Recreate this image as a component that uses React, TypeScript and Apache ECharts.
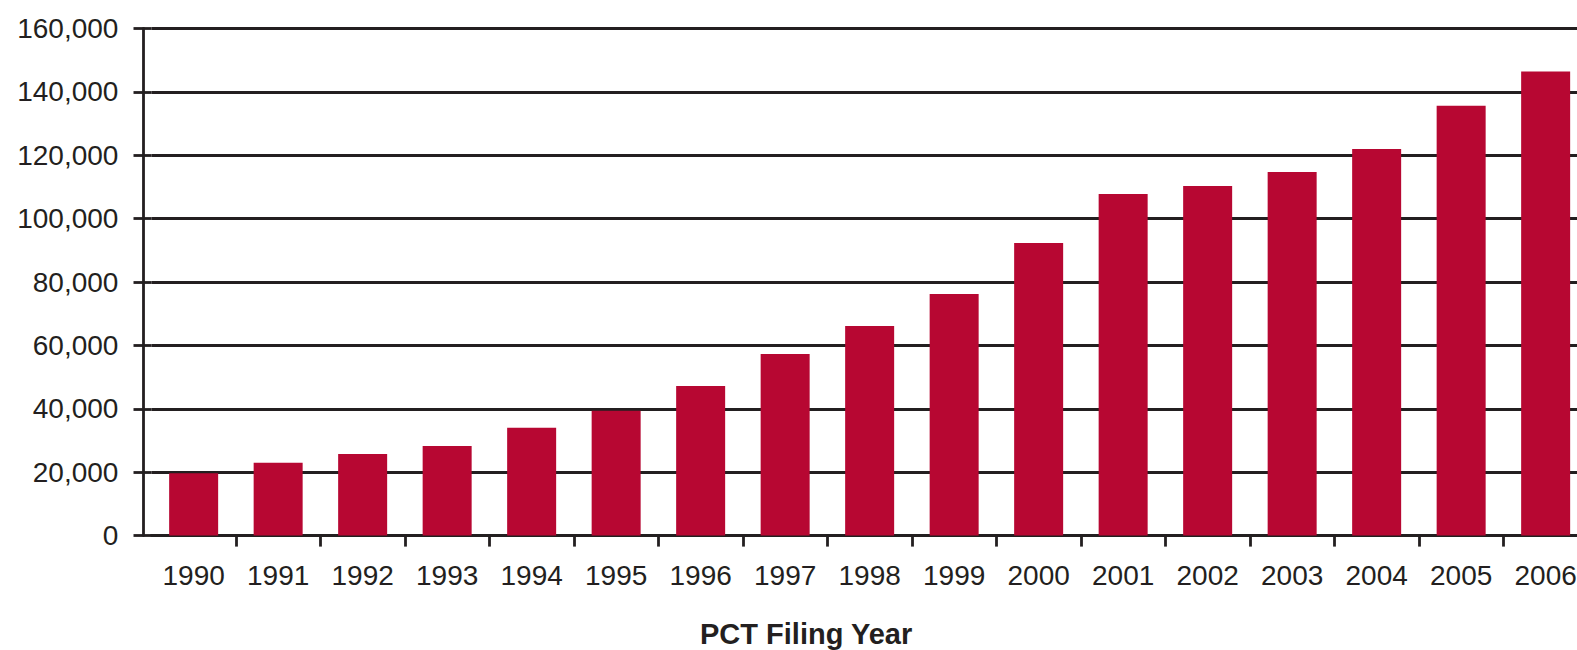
import React, { useEffect, useRef } from "react";
import * as echarts from "echarts";

const years = ["1990","1991","1992","1993","1994","1995","1996","1997","1998","1999","2000","2001","2002","2003","2004","2005","2006"];
const filings = [19700, 23000, 25750, 28300, 34000, 39400, 47200, 57300, 66150, 76250, 92350, 107800, 110300, 114750, 122000, 135600, 146400];
const yMin = 0;
const yMax = 160000;
const yStep = 20000;
const xTitle = "PCT Filing Year";

const INK = "#231f20";
const BAR = "#b70732";
const FONT = "'Liberation Sans', Arial, sans-serif";
const LW = 2.8;

export default function App() {
  const ref = useRef<HTMLDivElement>(null);
  useEffect(() => {
    if (!ref.current) return;
    const chart = echarts.init(ref.current, null, { renderer: "svg" });
    const top = 28.5;
    const height = 507.1;
    chart.setOption({
      animation: false,
      backgroundColor: "#ffffff",
      title: {
        text: xTitle,
        left: 700,
        top: 619,
        padding: 0,
        textStyle: { fontSize: 29, fontWeight: "bold", color: INK, fontFamily: FONT },
      },
      grid: [
        { left: 151.4, top, width: 1436.5, height },
        { left: 133.5, top, width: 17.9, height },
      ],
      xAxis: [
        {
          gridIndex: 0,
          type: "category",
          data: years,
          boundaryGap: true,
          axisLine: { show: true, lineStyle: { color: INK, width: LW } },
          axisTick: {
            show: true,
            length: 11,
            lineStyle: { color: INK, width: LW },
            interval: (i: number) => i !== 0,
          },
          axisLabel: { interval: 0, margin: 26, fontSize: 28, color: INK, fontFamily: FONT },
          splitLine: { show: false },
        },
        { gridIndex: 1, type: "value", min: 0, max: 1, show: false },
      ],
      yAxis: [
        {
          gridIndex: 0,
          type: "value",
          min: yMin,
          max: yMax,
          interval: yStep,
          offset: 8,
          axisLine: { show: true, lineStyle: { color: INK, width: LW } },
          axisTick: { show: false },
          axisLabel: {
            margin: 25,
            fontSize: 28,
            color: INK,
            fontFamily: FONT,
            formatter: (v: number) => v.toLocaleString("en-US"),
          },
          splitLine: { show: true, lineStyle: { color: INK, width: LW } },
        },
        {
          gridIndex: 1,
          type: "value",
          min: yMin,
          max: yMax,
          interval: yStep,
          axisLine: { show: false },
          axisTick: { show: false },
          axisLabel: { show: false },
          splitLine: { show: true, lineStyle: { color: INK, width: LW } },
        },
      ],
      series: [
        {
          type: "bar",
          xAxisIndex: 0,
          yAxisIndex: 0,
          data: filings,
          barWidth: 49,
          itemStyle: { color: BAR },
        },
      ],
    });
    return () => chart.dispose();
  }, []);
  return (
    <div
      ref={ref}
      style={{ position: "fixed", left: 0, top: 0, width: 1600, height: 650 }}
    />
  );
}
